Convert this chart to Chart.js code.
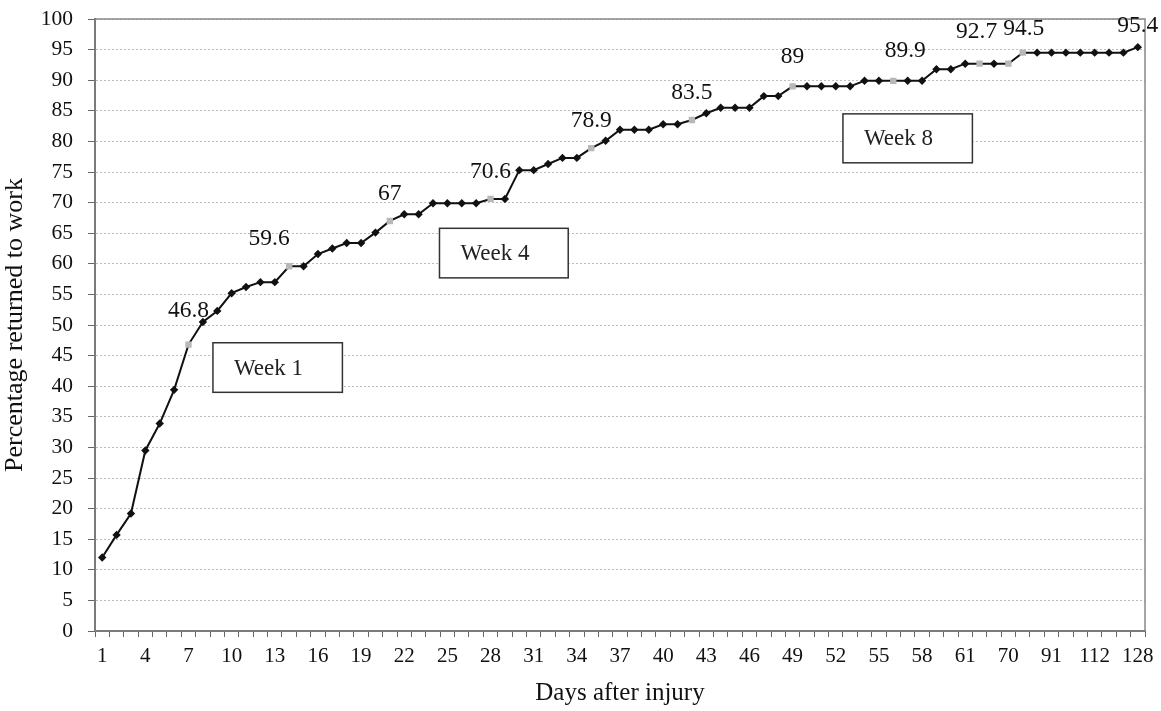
<!DOCTYPE html>
<html>
<head>
<meta charset="utf-8">
<script src="https://cdn.jsdelivr.net/npm/chart.js@4.4.1/dist/chart.umd.min.js"></script>
<style>
  html, body { margin: 0; padding: 0; background: #fff; }
</style>
</head>
<body>
<canvas id="chart1" width="1161" height="711"></canvas>
<script>
        // Categories (days after injury)
        const days = [1, 2, 3, 4, 5, 6, 7, 8, 9, 10, 11, 12, 13, 14, 15, 16, 17, 18, 19, 20,
            21, 22, 23, 24, 25, 26, 27, 28, 29, 30, 31, 32, 33, 34, 35, 36, 37, 38, 39, 40,
            41, 42, 43, 44, 45, 46, 47, 48, 49, 50, 51, 52, 53, 54, 55, 56, 57, 58, 59, 60,
            61, 63, 66, 70, 77, 84, 91, 98, 105, 112, 119, 126, 128];

        // Cumulative percentage returned to work
        const returned = [12.0, 15.7, 19.2, 29.5, 33.9, 39.4, 46.8, 50.5, 52.3, 55.2,
            56.2, 57.0, 57.0, 59.6, 59.6, 61.6, 62.5, 63.4, 63.4, 65.1,
            67.0, 68.1, 68.1, 69.9, 69.9, 69.9, 69.9, 70.6, 70.6, 75.3,
            75.3, 76.3, 77.3, 77.3, 78.9, 80.1, 81.9, 81.9, 81.9, 82.8,
            82.8, 83.5, 84.6, 85.5, 85.5, 85.5, 87.4, 87.4, 89.0, 89.0,
            89.0, 89.0, 89.0, 89.9, 89.9, 89.9, 89.9, 89.9, 91.8, 91.8,
            92.7, 92.7, 92.7, 92.7, 94.5, 94.5, 94.5, 94.5, 94.5, 94.5,
            94.5, 94.5, 95.4];

        // Weekly points shown as grey squares
        const weekDays = [7, 14, 21, 28, 35, 42, 49, 56, 63, 70, 77];

        // Value labels
        const labelDays = [7, 14, 21, 28, 35, 42, 49, 56, 63, 77, 128];
        const labelTexts = ['46.8', '59.6', '67', '70.6', '78.9', '83.5', '89', '89.9', '92.7', '94.5', '95.4'];

        // Text boxes
        const boxTexts = ['Week 1', 'Week 4', 'Week 8'];

        const serif = "'Liberation Serif', 'Times New Roman', serif";

        const valueLabelPlugin = {
            id: 'valueLabels',
            afterDatasetsDraw(chart) {
                const ctx = chart.ctx;
                const meta = chart.getDatasetMeta(0);
                // small nudges so labels sit like the original
                const nudge = { 7: [0, -7], 14: [-20, 0], 49: [0, -2], 56: [12, -3], 63: [-3, -5], 77: [1, 3], 128: [0, 6] };
                ctx.save();
                ctx.font = '23.5px ' + serif;
                ctx.fillStyle = '#111';
                ctx.textAlign = 'center';
                ctx.textBaseline = 'middle';
                labelDays.forEach((d, k) => {
                    const i = days.indexOf(d);
                    const pt = meta.data[i];
                    const n = nudge[d] || [0, 0];
                    ctx.fillText(labelTexts[k], pt.x + n[0], pt.y - 27 + n[1]);
                });
                ctx.restore();
            }
        };

        const boxPlugin = {
            id: 'weekBoxes',
            afterDatasetsDraw(chart) {
                const ctx = chart.ctx;
                const xs = chart.scales.x, ys = chart.scales.y;
                // [x from, x to] in category index, [y top, y bottom] in value
                const place = [[7.7, 16.7, 47.1, 39.0], [23.45, 32.4, 65.8, 57.7], [51.5, 60.5, 84.5, 76.5]];
                ctx.save();
                ctx.font = '23px ' + serif;
                ctx.textBaseline = 'middle';
                ctx.textAlign = 'left';
                place.forEach((p, k) => {
                    const x0 = xs.getPixelForValue(p[0]), x1 = xs.getPixelForValue(p[1]);
                    const y0 = ys.getPixelForValue(p[2]), y1 = ys.getPixelForValue(p[3]);
                    ctx.fillStyle = '#fff';
                    ctx.fillRect(x0, y0, x1 - x0, y1 - y0);
                    ctx.strokeStyle = '#333';
                    ctx.lineWidth = 1.5;
                    ctx.strokeRect(x0, y0, x1 - x0, y1 - y0);
                    ctx.fillStyle = '#222';
                    ctx.fillText(boxTexts[k], x0 + 21, (y0 + y1) / 2 + 1);
                });
                ctx.restore();
            }
        };

        const framePlugin = {
            id: 'frame',
            beforeDatasetsDraw(chart) {
                const a = chart.chartArea, ctx = chart.ctx;
                ctx.save();
                ctx.strokeStyle = '#888';
                ctx.lineWidth = 1.5;
                ctx.strokeRect(a.left, a.top, a.right - a.left, a.bottom - a.top);
                ctx.restore();
            }
        };

        const isWeek = i => weekDays.includes(days[i]);

        new Chart(document.getElementById('chart1').getContext('2d'), {
            type: 'line',
            data: {
                labels: days,
                datasets: [{
                    data: returned,
                    borderColor: '#111',
                    borderWidth: 2,
                    tension: 0,
                    pointStyle: c => isWeek(c.dataIndex) ? 'rect' : 'rectRot',
                    pointRadius: c => isWeek(c.dataIndex) ? 4.5 : 4.2,
                    pointBackgroundColor: c => isWeek(c.dataIndex) ? '#b8b8b8' : '#111',
                    pointBorderColor: c => isWeek(c.dataIndex) ? '#b8b8b8' : '#111',
                    pointBorderWidth: 0
                }]
            },
            options: {
                responsive: false,
                animation: false,
                devicePixelRatio: 1,
                layout: { padding: { top: 19, right: 16, left: 0, bottom: 0 } },
                plugins: {
                    legend: { display: false },
                    tooltip: { enabled: false }
                },
                scales: {
                    x: {
                        type: 'category',
                        offset: true,
                        grid: { drawOnChartArea: false, offset: true, tickLength: 6, color: '#666', lineWidth: 1 },
                        border: { color: '#555', width: 2 },
                        ticks: {
                            autoSkip: false, maxRotation: 0, minRotation: 0, padding: 7,
                            font: { family: serif, size: 21 }, color: '#111',
                            callback: (v, i) => i % 3 === 0 ? days[i] : ''
                        },
                        title: {
                            display: true, text: 'Days after injury', color: '#111',
                            font: { family: serif, size: 25 }, padding: { top: 0, bottom: 3 }
                        },
                        afterFit: s => { s.height = 80; s.paddingLeft = 0; s.paddingRight = 0; }
                    },
                    y: {
                        min: 0, max: 100,
                        grid: { color: '#bdbdbd', lineWidth: 1, tickLength: 7, tickColor: '#666', tickBorderDash: [] },
                        border: { color: '#555', width: 2, dash: [2, 2] },
                        ticks: { stepSize: 5, padding: 15, font: { family: serif, size: 21.5 }, color: '#111' },
                        title: {
                            display: true, text: 'Percentage returned to work', color: '#111',
                            font: { family: serif, size: 26 }, padding: { top: 0, bottom: 0 }
                        },
                        afterFit: s => { s.width = 95; s.paddingTop = 0; s.paddingBottom = 0; }
                    }
                }
            },
            plugins: [framePlugin, valueLabelPlugin, boxPlugin]
        });
</script>
</body>
</html>
